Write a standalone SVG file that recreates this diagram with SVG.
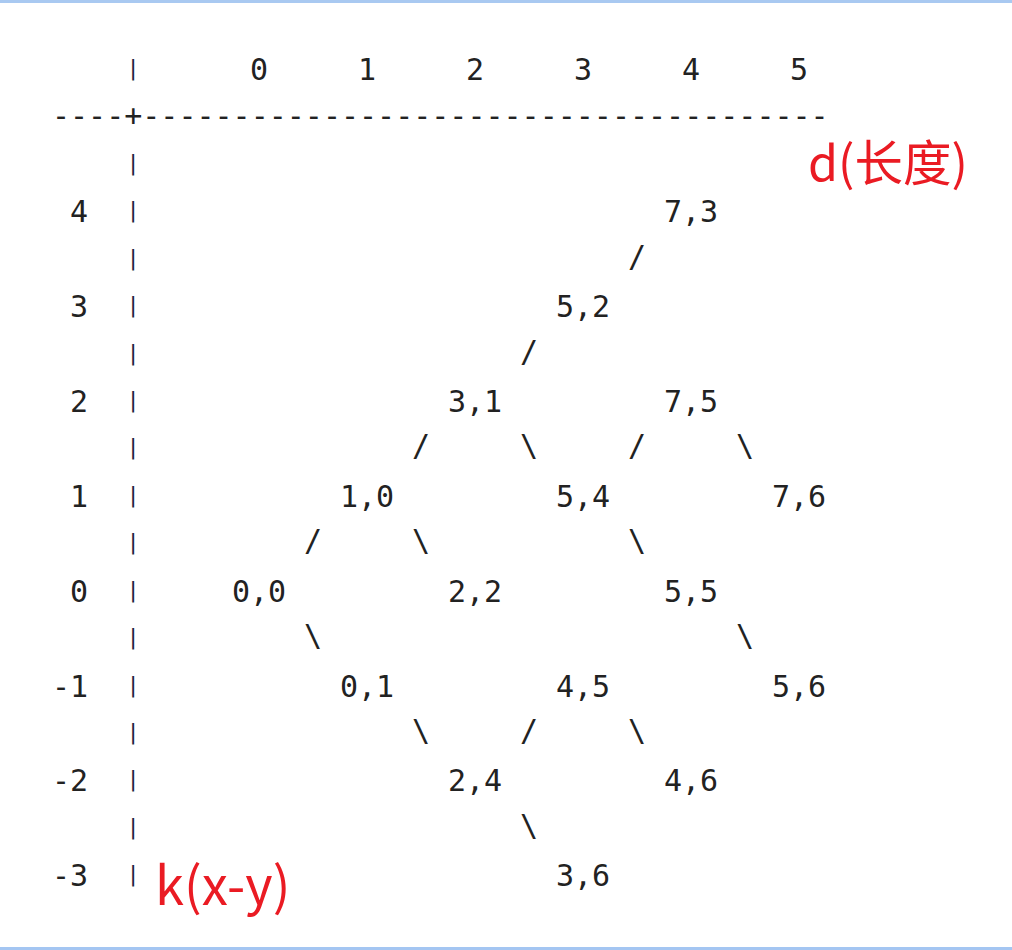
<svg xmlns="http://www.w3.org/2000/svg" width="1012" height="950" viewBox="0 0 1012 950">
<style>
.m{font-family:"DejaVu Sans Mono","Liberation Mono",monospace;font-size:30px;fill:#222;}
.c{text-anchor:middle;}
.e{text-anchor:end;}
.bar{font-family:"DejaVu Sans Mono","Liberation Mono",monospace;font-size:22px;fill:#1c2340;text-anchor:middle;}
.red{font-family:"Noto Sans CJK SC","Noto Sans",sans-serif;fill:#ea1b23;}
</style>
<rect x="0" y="0" width="1012" height="950" fill="#ffffff"/>
<rect x="0" y="0" width="1012" height="3" fill="#a9c9f1"/>
<rect x="0" y="947" width="1012" height="3" fill="#a4c6f2"/>
<g id="axes">
<text class="m" x="52" y="126">----+--------------------------------------</text>
<g id="bars">
<text class="bar" x="133" y="75">|</text>
<text class="bar" x="133" y="170">|</text>
<text class="bar" x="133" y="217">|</text>
<text class="bar" x="133" y="265">|</text>
<text class="bar" x="133" y="312">|</text>
<text class="bar" x="133" y="360">|</text>
<text class="bar" x="133" y="407">|</text>
<text class="bar" x="133" y="454">|</text>
<text class="bar" x="133" y="502">|</text>
<text class="bar" x="133" y="549">|</text>
<text class="bar" x="133" y="597">|</text>
<text class="bar" x="133" y="644">|</text>
<text class="bar" x="133" y="692">|</text>
<text class="bar" x="133" y="739">|</text>
<text class="bar" x="133" y="786">|</text>
<text class="bar" x="133" y="834">|</text>
<text class="bar" x="133" y="881">|</text>
</g>
<g id="d-axis">
<text class="m c" x="259" y="80">0</text>
<text class="m c" x="367" y="80">1</text>
<text class="m c" x="475" y="80">2</text>
<text class="m c" x="583" y="80">3</text>
<text class="m c" x="691" y="80">4</text>
<text class="m c" x="799" y="80">5</text>
</g>
<g id="k-axis">
<text class="m e" x="88" y="222">4</text>
<text class="m e" x="88" y="317">3</text>
<text class="m e" x="88" y="412">2</text>
<text class="m e" x="88" y="507">1</text>
<text class="m e" x="88" y="602">0</text>
<text class="m e" x="88" y="697">-1</text>
<text class="m e" x="88" y="791">-2</text>
<text class="m e" x="88" y="886">-3</text>
</g>
<text class="red" x="808" y="181" font-size="48.5">d(长度)</text>
<text class="red" x="155" y="905" font-size="52.5">k(x-y)</text>
</g>
<g id="connectors">
<text class="m c" x="637" y="267">/</text>
<text class="m c" x="529" y="362">/</text>
<text class="m c" x="421" y="456">/</text>
<text class="m c" x="529" y="456">\</text>
<text class="m c" x="637" y="456">/</text>
<text class="m c" x="745" y="456">\</text>
<text class="m c" x="313" y="551">/</text>
<text class="m c" x="421" y="551">\</text>
<text class="m c" x="637" y="551">\</text>
<text class="m c" x="313" y="646">\</text>
<text class="m c" x="745" y="646">\</text>
<text class="m c" x="421" y="741">\</text>
<text class="m c" x="529" y="741">/</text>
<text class="m c" x="637" y="741">\</text>
<text class="m c" x="529" y="836">\</text>
</g>
<g id="n-7-3"><text class="m c" x="691" y="222">7,3</text></g>
<g id="n-5-2"><text class="m c" x="583" y="317">5,2</text></g>
<g id="n-3-1"><text class="m c" x="475" y="412">3,1</text></g>
<g id="n-7-5"><text class="m c" x="691" y="412">7,5</text></g>
<g id="n-1-0"><text class="m c" x="367" y="507">1,0</text></g>
<g id="n-5-4"><text class="m c" x="583" y="507">5,4</text></g>
<g id="n-7-6"><text class="m c" x="799" y="507">7,6</text></g>
<g id="n-0-0"><text class="m c" x="259" y="602">0,0</text></g>
<g id="n-2-2"><text class="m c" x="475" y="602">2,2</text></g>
<g id="n-5-5"><text class="m c" x="691" y="602">5,5</text></g>
<g id="n-0-1"><text class="m c" x="367" y="697">0,1</text></g>
<g id="n-4-5"><text class="m c" x="583" y="697">4,5</text></g>
<g id="n-5-6"><text class="m c" x="799" y="697">5,6</text></g>
<g id="n-2-4"><text class="m c" x="475" y="791">2,4</text></g>
<g id="n-4-6"><text class="m c" x="691" y="791">4,6</text></g>
<g id="n-3-6"><text class="m c" x="583" y="886">3,6</text></g>
</svg>
